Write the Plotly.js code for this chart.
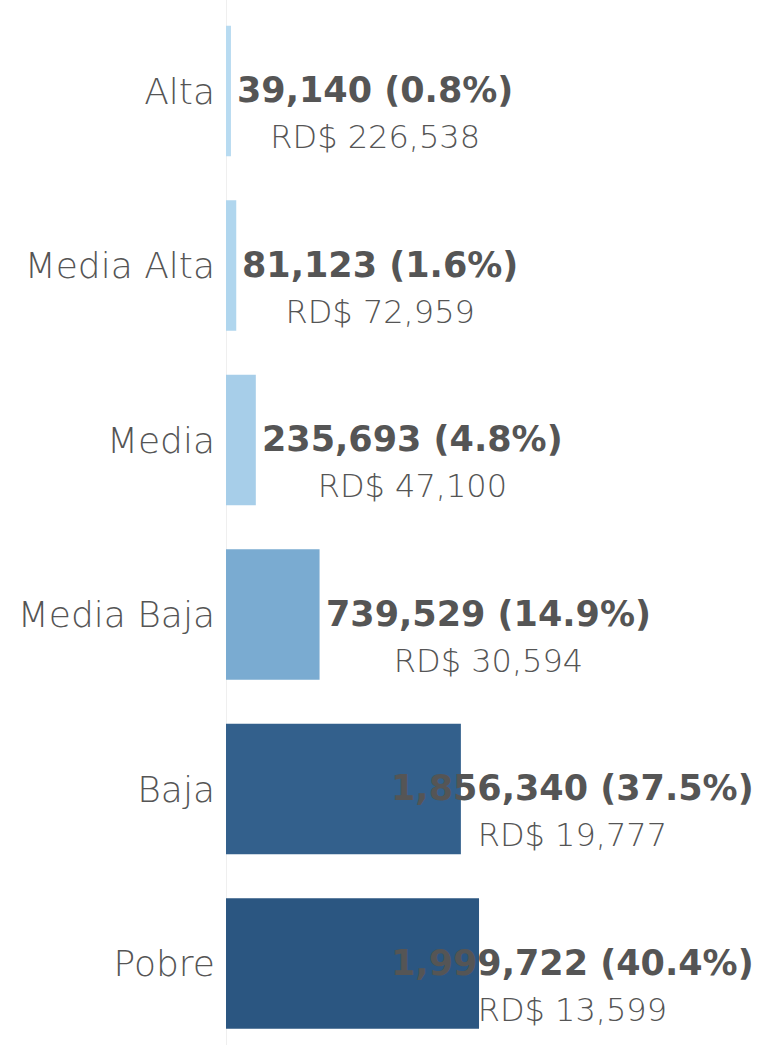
<!DOCTYPE html>
<html>
<head>
<meta charset="utf-8">
<script src="https://cdn.plot.ly/plotly-3.0.1.min.js"></script>
<style>html,body{margin:0;padding:0;background:#fff;}#chart{width:761px;height:1045px;}</style>
</head>
<body>
<div id="chart"></div>
<script>
const categories = ['Alta', 'Media Alta', 'Media', 'Media Baja', 'Baja', 'Pobre'];
const households = [39140, 81123, 235693, 739529, 1856340, 1999722];
const shares = [0.8, 1.6, 4.8, 14.9, 37.5, 40.4];
const incomes = [226538, 72959, 47100, 30594, 19777, 13599];
const barColors = ['#b8dbf1', '#b0d6ee', '#a7cee9', '#7aabd1', '#33608c', '#2b5681'];

const fmt = v => v.toLocaleString('en-US');
const FONT = 'DejaVu Sans, sans-serif';
const TXT = '#555555';

const annotations = categories.map((c, i) => ({
  x: households[i], y: c, xref: 'x', yref: 'y',
  xanchor: 'left', yanchor: 'middle', xshift: 4, yshift: -22,
  align: 'center', showarrow: false,
  font: {family: FONT, size: 35, color: TXT},
  text: '<b>' + fmt(households[i]) + ' (' + shares[i].toFixed(1) + '%)</b><br>' +
        '<span style="font-size:32px;font-weight:300">RD$ ' + fmt(incomes[i]) + '</span>'
}));

const trace = {
  type: 'bar', orientation: 'h',
  x: households, y: categories,
  marker: {color: barColors, line: {width: 0}},
  hoverinfo: 'none'
};

const layout = {
  width: 761, height: 1045,
  margin: {l: 226, r: 8, t: 0, b: 0, pad: 0},
  paper_bgcolor: '#ffffff', plot_bgcolor: '#ffffff',
  showlegend: false,
  bargap: 0.252,
  xaxis: {range: [0, 4165000], showgrid: false, showticklabels: false, ticks: '',
          zeroline: true, zerolinecolor: '#efefef', zerolinewidth: 1, showline: false, fixedrange: true},
  yaxis: {type: 'category', categoryorder: 'array', categoryarray: categories,
          range: [5.467, -0.5215], showgrid: false, zeroline: false, showline: false,
          ticks: '', ticklabelstandoff: 10,
          tickfont: {family: FONT, size: 36, color: TXT, weight: 300}, fixedrange: true},
  annotations: annotations
};

Plotly.newPlot('chart', [trace], layout, {displayModeBar: false, staticPlot: true}).then(gd => {
  const nodes = gd.querySelectorAll('.annotation');
  const upd = {};
  nodes.forEach((n, i) => {
    const r = n.getBoundingClientRect();
    if (r.right > 761 - 4) {
      upd['annotations[' + i + '].xref'] = 'paper';
      upd['annotations[' + i + '].x'] = 1;
      upd['annotations[' + i + '].xanchor'] = 'right';
      upd['annotations[' + i + '].xshift'] = 3;
    }
  });
  if (Object.keys(upd).length) Plotly.relayout(gd, upd);
});
</script>
</body>
</html>
